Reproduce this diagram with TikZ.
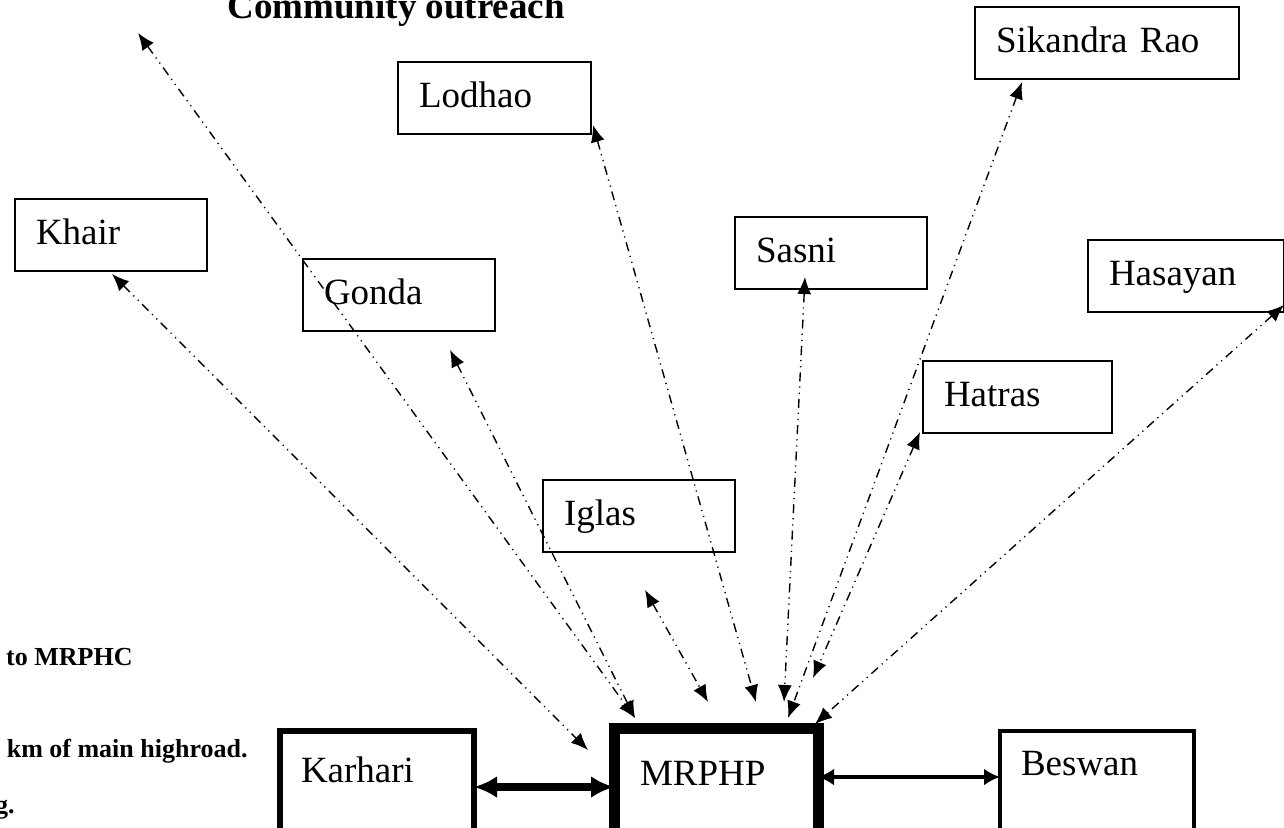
\documentclass[tikz,border=0pt]{standalone}
\usepackage{fontspec}
\setmainfont{Liberation Serif}
\usetikzlibrary{arrows.meta}

\tikzset{
  town/.style={draw,line width=.75pt,anchor=north west,outer sep=0pt,
    inner xsep=10.5pt,inner ysep=0pt,text width=#1,text height=22.5pt,
    text depth=13.5pt,align=left,font=\fontsize{18.5}{22}\selectfont},
  town/.default=75pt,
  note/.style={anchor=base east,inner sep=0pt,font=\bfseries\fontsize{13}{15}\selectfont},
  link/.style={line width=.7pt,
    dash pattern=on 4.5pt off 2.5pt on .6pt off 2.5pt on .6pt off 2.5pt,
    {Latex[length=8.5pt,width=7pt]}-{Latex[length=8.5pt,width=7pt]}},
}

\begin{document}
\begin{tikzpicture}[x=.5pt,y=-.5pt]
    \useasboundingbox (0,0) rectangle (1284,827);
    \node[anchor=base west,inner sep=0pt,font=\bfseries\fontsize{18.5}{22}\selectfont]
      (title) at (227,18) {Community outreach};
    % cut-off lines of the page text
    \node[note] (note1) at (133,665) {to MRPHC};
    \node[note] (note2) at (248,757) {km of main highroad.};
    \node[note] (note3) at (15,813) {g.};
    \foreach \n/\x/\y/\w/\t in {khair/15/199/75pt/Khair,
        lodhao/398/62/75.5pt/Lodhao, gonda/303/259/75pt/Gonda,
        sikandra/975/7/111pt/Sikandra Rao, sasni/735/217/75pt/Sasni,
        hasayan/1088/240/77pt/Hasayan, hatras/923/361/73.5pt/Hatras,
        iglas/543/480/75pt/Iglas}
      \node[town=\w] (\n) at (\x,\y) {\t};
    \node[town=76pt,line width=2.9pt,text height=25.5pt,text depth=24.5pt]
      (karhari) at (280,731) {Karhari};
    \node[town=76pt,line width=5.5pt,text height=28.5pt,text depth=24.5pt,
      inner xsep=13pt] (mrphp) at (614,728) {MRPHP};
    \node[town=76pt,line width=2.2pt,text height=22pt,text depth=28pt]
      (beswan) at (1000,731) {Beswan};
    % free ends of the outreach links
    \coordinate (far) at (138,33);
    \coordinate (khair-tip) at (112,274);
    \coordinate (gonda-tip) at (450,350);
    \coordinate (iglas-tip) at (645,590);
    \coordinate (lodhao-tip) at (593,125);
    \coordinate (sasni-tip) at (805,277);
    \coordinate (sikandra-tip) at (1022,82);
    \coordinate (hatras-tip) at (920,432);
    \coordinate (hasayan-tip) at (1284,305);
    \coordinate (hub-a) at (635,718);
    \coordinate (hub-b) at (588,750);
    \coordinate (hub-c) at (708,702);
    \coordinate (hub-d) at (756,702);
    \coordinate (hub-e) at (784,702);
    \coordinate (hub-f) at (788,718);
    \coordinate (hub-g) at (813,678);
    \coordinate (hub-h) at (815,724);
    \foreach \a/\b in {far/hub-a, gonda-tip/hub-a, khair-tip/hub-b,
        iglas-tip/hub-c, lodhao-tip/hub-d, sasni-tip/hub-e,
        sikandra-tip/hub-f, hatras-tip/hub-g, hasayan-tip/hub-h}
      \draw[link] (\a) -- (\b);
    \draw[line width=3.6pt,{Latex[length=11.5pt,width=11pt]}-{Latex[length=11.5pt,width=11pt]}]
      ([yshift=-3pt]karhari.east) -- ([yshift=-3pt]karhari.east -| mrphp.west);
    \draw[line width=2.4pt,{Latex[length=8pt,width=8.5pt]}-{Latex[length=8pt,width=8.5pt]}]
      ([yshift=2pt]mrphp.east |- beswan.west) -- ([yshift=2pt]beswan.west);
  \end{tikzpicture}
\end{document}
